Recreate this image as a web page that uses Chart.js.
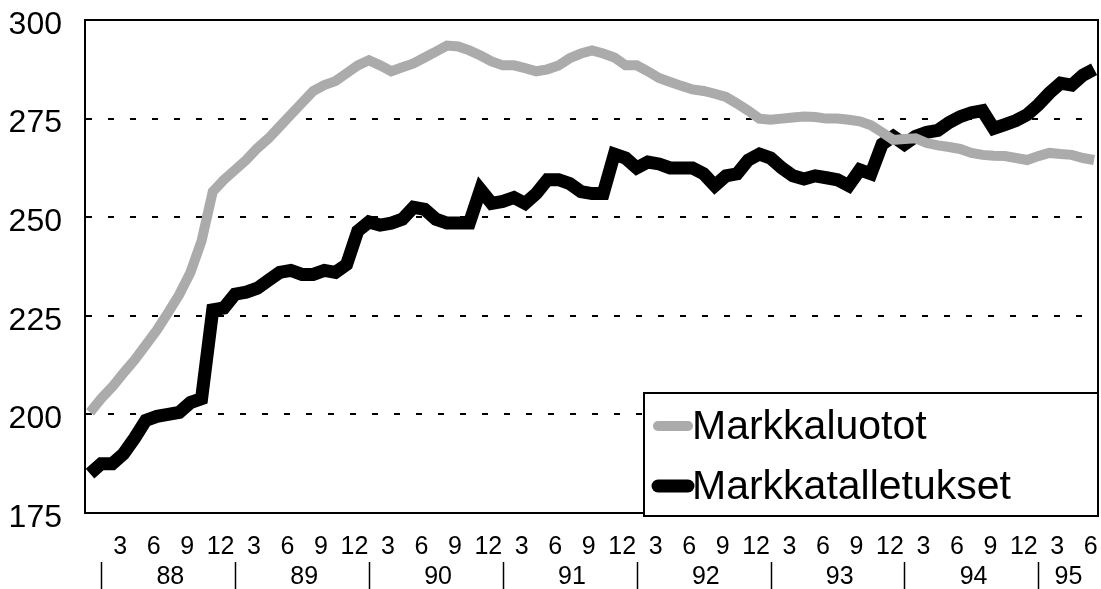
<!DOCTYPE html>
<html>
<head>
<meta charset="utf-8">
<style>
  html, body { margin: 0; padding: 0; background: #fff; }
  #wrap { width: 1101px; height: 589px; }
</style>
<script src="https://cdn.jsdelivr.net/npm/chart.js@4.4.1/dist/chart.umd.min.js"></script>
</head>
<body>
<div id="wrap"><canvas id="chart" width="1101" height="589"></canvas></div>
<script>
// Monthly series, Jan 1988 .. Jul 1995 (index 0 = 1/88)
const yearLabels = ['88', '89', '90', '91', '92', '93', '94', '95'];
const monthLabels = ['3', '6', '9', '12'];
const yTicks = [175, 200, 225, 250, 275, 300];

const markkaluotot = [
    200.5, 204, 207, 210.5, 213.8, 217.6, 221.4, 225.8, 230.4, 236,
    244, 256.5, 259.5, 262, 264.5, 267.5, 270, 273, 276, 279,
    282, 283.5, 284.5, 286.5, 288.5, 289.8, 288.5, 287, 288, 289,
    290.5, 292, 293.5, 293.3, 292.3, 291, 289.5, 288.5, 288.5, 287.8,
    287, 287.5, 288.5, 290.3, 291.5, 292.3, 291.5, 290.5, 288.5, 288.5,
    287, 285.3, 284.3, 283.3, 282.4, 282, 281.3, 280.5, 278.8, 277,
    275, 274.7, 275, 275.3, 275.5, 275.4, 275, 275, 274.7, 274.3,
    273.3, 271.5, 269.6, 269.8, 270, 268.8, 268.2, 267.8, 267.3, 266.3,
    265.8, 265.6, 265.5, 265, 264.5, 265.5, 266.3, 266, 265.8, 265, 264.5
];

const markkatalletukset = [
    185, 187.5, 187.5, 190, 194, 198.5, 199.5, 200, 200.5, 203,
    204, 226.5, 227, 230.5, 231, 232, 234, 236, 236.5, 235.5,
    235.5, 236.5, 236, 238, 246.5, 248.8, 248, 248.5, 249.5, 252.5,
    252, 249.5, 248.5, 248.5, 248.5, 257, 253.5, 254, 255, 253.5,
    256, 259.5, 259.5, 258.5, 256.5, 256, 256, 266, 265, 262.5,
    264, 263.5, 262.5, 262.5, 262.5, 261, 258, 260.5, 261, 264.5,
    266, 265, 262.5, 260.5, 259.7, 260.5, 260, 259.5, 258, 262,
    261, 268.5, 270.5, 268.5, 270.5, 271.5, 272, 274, 275.5, 276.5,
    277, 272.5, 273.5, 274.5, 276, 278.5, 281.5, 284, 283.5, 286, 287.5
];

const FONT = "'Liberation Sans', Arial, Helvetica, sans-serif";
const lastIndex = markkatalletukset.length - 1;

// month tick positions (3,6,9,12 of every year), year mid points and year borders
let monthTickValues = [];
let monthTickText = [];
yearLabels.forEach((y, k) => {
    monthLabels.forEach(m => {
        let v = k * 12 + Number(m) - 0.3;
        if (v <= lastIndex) {
            monthTickValues.push(v);
            monthTickText.push(m);
        }
    });
});
let yearMidValues = yearLabels.map((y, k) => Math.min(k * 12 + 7.2, (k * 12 + 1 + lastIndex + 0.4) / 2));
let yearBorders = yearLabels.map((y, k) => k * 12 + 1);

function toPoints(arr) {
    return arr.map((v, i) => ({ x: i, y: v }));
}

// dashed grid, no line on the frame values
function gridColor(ctx) {
    if (ctx.tick && (ctx.tick.value === 175 || ctx.tick.value === 300)) return 'rgba(0,0,0,0)';
    return '#000';
}

const framePlugin = {
    id: 'frame',
    afterDatasetsDraw(chart) {
        let a = chart.chartArea;
        let ctx = chart.ctx;
        ctx.save();
        ctx.strokeStyle = '#000';
        ctx.lineWidth = 2;
        ctx.strokeRect(a.left, a.top, a.right - a.left, a.bottom - a.top);
        ctx.restore();
    },
    afterDraw(chart) {
        let ctx = chart.ctx;
        let xs = chart.scales.x;
        let ys = chart.scales.year;
        let a = chart.chartArea;

        // year separators
        ctx.save();
        ctx.strokeStyle = '#000';
        ctx.lineWidth = 1.5;
        yearBorders.forEach(v => {
            let px = Math.round(xs.getPixelForValue(v)) + 0.5;
            ctx.beginPath();
            ctx.moveTo(px, ys.top + 2);
            ctx.lineTo(px, chart.height);
            ctx.stroke();
        });
        ctx.restore();

        // legend box
        let boxR = a.right;
        let boxL = boxR - 454;
        let boxT = 393;
        let boxB = a.bottom + 3;
        ctx.save();
        ctx.fillStyle = '#fff';
        ctx.fillRect(boxL, boxT, boxR - boxL, boxB - boxT);
        ctx.strokeStyle = '#000';
        ctx.lineWidth = 2;
        ctx.strokeRect(boxL, boxT, boxR - boxL, boxB - boxT);
        ctx.font = '41px ' + FONT;
        ctx.textBaseline = 'middle';
        ctx.fillStyle = '#000';
        chart.data.datasets.forEach((ds, i) => {
            let cy = boxT + 33 + i * 60;
            ctx.strokeStyle = ds.borderColor;
            ctx.lineWidth = ds.borderWidth;
            ctx.lineCap = 'round';
            ctx.beginPath();
            ctx.moveTo(boxL + 14, cy);
            ctx.lineTo(boxL + 44, cy);
            ctx.stroke();
            ctx.fillText(ds.label, boxL + 48, cy + 2);
        });
        ctx.restore();
    }
};

new Chart(document.getElementById('chart'), {
    type: 'line',
    data: {
        datasets: [
            {
                label: 'Markkaluotot',
                data: toPoints(markkaluotot),
                borderColor: '#ababab',
                borderWidth: 10,
                pointRadius: 0,
                tension: 0,
                fill: false
            },
            {
                label: 'Markkatalletukset',
                data: toPoints(markkatalletukset),
                borderColor: '#000',
                borderWidth: 13,
                pointRadius: 0,
                tension: 0,
                fill: false
            }
        ]
    },
    options: {
        responsive: false,
        animation: false,
        events: [],
        layout: { padding: { top: 20, right: 3, left: 0, bottom: 0 } },
        plugins: {
            legend: { display: false },
            tooltip: { enabled: false }
        },
        scales: {
            x: {
                type: 'linear',
                position: 'bottom',
                min: -0.45,
                max: lastIndex + 0.35,
                afterBuildTicks: s => { s.ticks = monthTickValues.map(v => ({ value: v })); },
                afterFit: s => { s.height = 47; s.paddingRight = 0; s.paddingLeft = 0; },
                grid: { display: false, drawTicks: false },
                border: { display: true, color: '#000', width: 2 },
                ticks: {
                    autoSkip: false,
                    maxRotation: 0,
                    padding: 19,
                    color: '#000',
                    font: { family: FONT, size: 25 },
                    callback: (value, index) => monthTickText[index]
                }
            },
            year: {
                type: 'linear',
                position: 'bottom',
                min: -0.45,
                max: lastIndex + 0.35,
                afterBuildTicks: s => { s.ticks = yearMidValues.map(v => ({ value: v })); },
                afterFit: s => { s.height = 29; s.paddingRight = 0; s.paddingLeft = 0; },
                grid: { display: false, drawTicks: false },
                border: { display: false },
                ticks: {
                    autoSkip: false,
                    maxRotation: 0,
                    padding: 2,
                    color: '#000',
                    font: { family: FONT, size: 25 },
                    callback: (value, index) => yearLabels[index]
                }
            },
            y: {
                type: 'linear',
                min: 175,
                max: 300,
                afterBuildTicks: s => { s.ticks = yTicks.map(v => ({ value: v })); },
                afterFit: s => { s.width = 85; s.paddingTop = 0; s.paddingBottom = 0; },
                grid: { color: gridColor, lineWidth: 2, drawTicks: false },
                border: { display: true, color: '#000', width: 2, dash: [6, 16] },
                ticks: {
                    padding: 23,
                    labelOffset: 5,
                    color: '#000',
                    font: { family: FONT, size: 32 }
                }
            }
        }
    },
    plugins: [framePlugin]
});
</script>
</body>
</html>
